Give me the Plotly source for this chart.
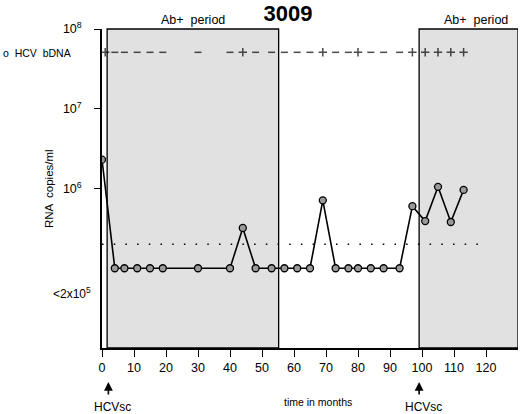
import plotly.graph_objects as go

# ---- data ----
months = [0, 4, 7, 11, 15, 19, 30, 40, 44, 48, 53, 57, 61, 65, 69, 73, 77, 80, 84, 88, 93, 97, 101, 105, 109, 113]
bdna = [2.3e6, 1e5, 1e5, 1e5, 1e5, 1e5, 1e5, 1e5, 3.2e5, 1e5, 1e5, 1e5, 1e5, 1e5, 7.1e5,
        1e5, 1e5, 1e5, 1e5, 1e5, 1e5, 6.0e5, 3.9e5, 1.05e6, 3.8e5, 9.6e5]
pcr_months = [1, 4, 7, 11, 15, 19, 30, 40, 44, 48, 53, 57, 61, 65, 69, 73, 77, 80, 84, 88, 93, 97, 101, 105, 109, 113]
pcr_results = ["+", "-", "-", "-", "-", "-", "-", "-", "+", "-", "-", "-", "-", "-", "+",
               "-", "-", "+", "-", "-", "-", "+", "+", "+", "+", "+"]
pcr_level = 5.1e7
detection_limit = 2e5
detection_span = [0, 119]
ab_periods = [(1.6, 55.2), (99.1, 130)]
hcvsc_months = [2, 99.1]
x_ticks = [0, 10, 20, 30, 40, 50, 60, 70, 80, 90, 100, 110, 120]
y_ticks = [1e6, 1e7, 1e8]
y_tick_text = ["10<sup>6</sup>", "10<sup>7</sup>", "10<sup>8</sup>"]

W, H = 520, 414
ML, MR, MT, MB = 102, 2, 29, 66
PW, PH = W - ML - MR, H - MT - MB


def px(xp):
    return (xp - ML) / PW


def py(yp):
    return (H - MB - yp) / PH


FONT = "Liberation Sans, Arial, sans-serif"

fig = go.Figure()

# detection limit dotted line
fig.add_trace(go.Scatter(
    x=detection_span, y=[detection_limit, detection_limit], mode="lines",
    line=dict(color="black", width=1.4, dash="1.5px,10.2px"),
    showlegend=False, hoverinfo="skip"))

# bDNA series
fig.add_trace(go.Scatter(
    x=months, y=bdna, mode="lines+markers", name="HCV bDNA",
    line=dict(color="black", width=1.6),
    marker=dict(symbol="circle", size=7, color="#9a9a9a",
                line=dict(color="black", width=1.3)),
    showlegend=False))

# PCR results
symbols = ["cross-thin" if r == "+" else "line-ew" for r in pcr_results]
sizes = [6 if r == "+" else 5 for r in pcr_results]
fig.add_trace(go.Scatter(
    x=pcr_months, y=[pcr_level] * len(pcr_months), mode="markers",
    marker=dict(symbol=symbols, size=sizes, color="black",
                line=dict(color="black", width=1.5)),
    text=pcr_results, hovertemplate="PCR %{text}<extra></extra>",
    showlegend=False))

shapes = []
for a, b in ab_periods:
    shapes.append(dict(type="rect", xref="x", yref="paper", x0=a, x1=b, y0=0, y1=1,
                       fillcolor="#e1e1e1", line=dict(color="black", width=1.3),
                       layer="below"))

annotations = []
# Ab+ period labels
for a, b in ab_periods:
    cx = (a + b) / 2 if b < 120 else 117
    annotations.append(dict(x=cx, y=py(20), xref="x", yref="paper", text="Ab+  period",
                            showarrow=False, font=dict(size=12.5, family=FONT, color="black"),
                            xanchor="center", yanchor="middle"))
# PCR label
annotations.append(dict(x=px(477), y=pcr_level, xref="paper", yref="y", text="PCR",
                        showarrow=False, font=dict(size=11, family=FONT, color="black"),
                        xanchor="left", yanchor="middle"))
# legend-like label
annotations.append(dict(x=px(1), y=py(53), xref="paper", yref="paper", text="o  HCV  bDNA",
                        showarrow=False, font=dict(size=10.5, family=FONT, color="black"),
                        xanchor="left", yanchor="middle"))
# <2x10^5 label
annotations.append(dict(x=px(93), y=py(293), xref="paper", yref="paper",
                        text="&lt;2x10<sup>5</sup>", showarrow=False,
                        font=dict(size=12, family=FONT, color="black"),
                        xanchor="right", yanchor="middle"))
# y axis title
annotations.append(dict(x=px(49), y=py(189), xref="paper", yref="paper",
                        text="RNA  copies/ml", textangle=-90, showarrow=False,
                        font=dict(size=11.5, family=FONT, color="black"),
                        xanchor="center", yanchor="middle"))
# x axis title
annotations.append(dict(x=px(318), y=py(402), xref="paper", yref="paper",
                        text="time in months", showarrow=False,
                        font=dict(size=10.5, family=FONT, color="black"),
                        xanchor="center", yanchor="middle"))
# HCVsc arrows + labels
for m in hcvsc_months:
    annotations.append(dict(x=m, y=py(382), xref="x", yref="paper", text="",
                            showarrow=True, arrowhead=2, arrowsize=1.1, arrowwidth=1.6,
                            arrowcolor="black", ax=0, ay=14, axref="pixel", ayref="pixel"))
    annotations.append(dict(x=m, y=py(407), xref="x", yref="paper", text="HCVsc",
                            showarrow=False, xshift=4,
                            font=dict(size=12, family=FONT, color="black"),
                            xanchor="center", yanchor="middle"))

fig.update_layout(
    width=W, height=H,
    margin=dict(l=ML, r=MR, t=MT, b=MB, pad=0),
    paper_bgcolor="white", plot_bgcolor="white",
    title=dict(text="<b>3009</b>", x=288 / W, xref="container", xanchor="center",
               y=1 - 13 / H, yref="container", yanchor="middle",
               font=dict(size=22, family=FONT, color="black")),
    font=dict(family=FONT, color="black"),
    shapes=shapes, annotations=annotations,
    showlegend=False,
)
fig.update_xaxes(range=[0, 130], tickvals=x_ticks, ticks="outside", ticklen=7,
                 tickwidth=1.4, tickcolor="black", showline=True, linecolor="black",
                 linewidth=1.6, showgrid=False, zeroline=False,
                 tickfont=dict(size=12.5, family=FONT, color="black"))
fig.update_yaxes(type="log", range=[4, 8], tickvals=y_ticks, ticktext=y_tick_text,
                 ticks="outside", ticklen=6, tickwidth=1.4, tickcolor="black",
                 showline=True, linecolor="black", linewidth=1.6, showgrid=False,
                 zeroline=False, ticklabelstandoff=10,
                 tickfont=dict(size=12.5, family=FONT, color="black"))

fig.write_html("out.html", config={"displayModeBar": False},
               post_script="document.body.style.margin='0';document.body.style.overflow='hidden';")
